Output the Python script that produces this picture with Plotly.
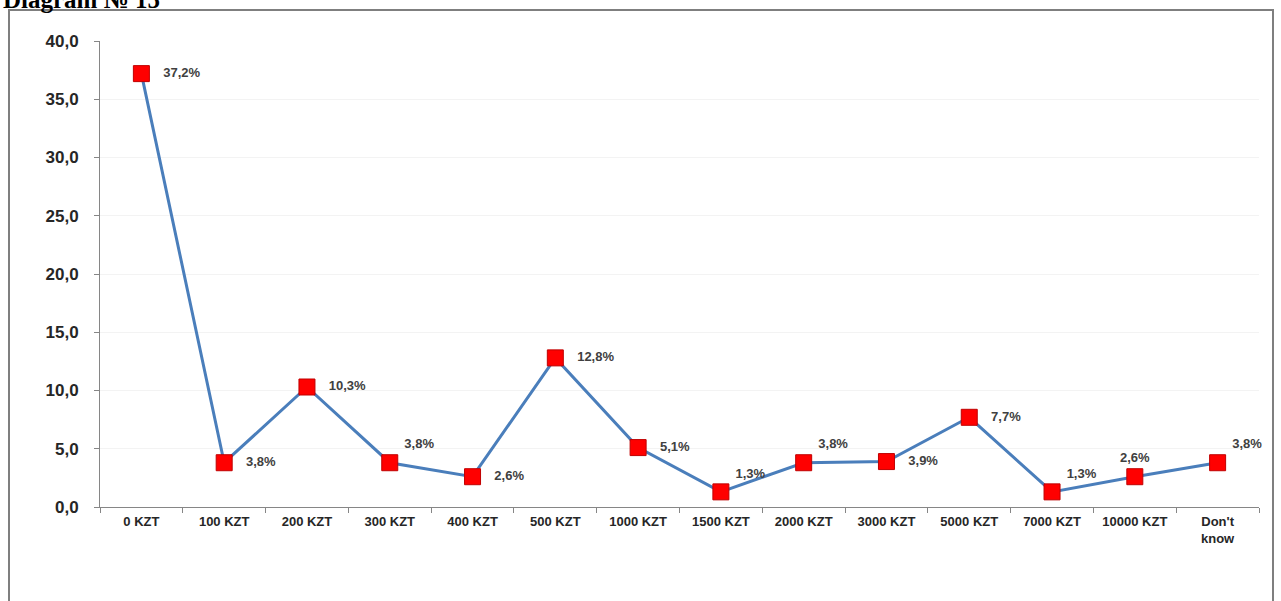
import plotly.graph_objects as go

categories = ["0 KZT", "100 KZT", "200 KZT", "300 KZT", "400 KZT", "500 KZT", "1000 KZT",
              "1500 KZT", "2000 KZT", "3000 KZT", "5000 KZT", "7000 KZT", "10000 KZT", "Don't<br>know"]
values = [37.2, 3.8, 10.3, 3.8, 2.6, 12.8, 5.1, 1.3, 3.8, 3.9, 7.7, 1.3, 2.6, 3.8]
y_ticks = [0, 5, 10, 15, 20, 25, 30, 35, 40]
y_tick_labels = ["0,0", "5,0", "10,0", "15,0", "20,0", "25,0", "30,0", "35,0", "40,0"]

label_text = [f"{v:.1f}".replace(".", ",") + "%" for v in values]
label_pos = ["middle right", "middle right", "middle right", "top right", "middle right",
             "middle right", "middle right", "top right", "top right", "middle right",
             "middle right", "top right", "top center", "top right"]

W, H = 1281, 601
L, R, T, B = 100, 22, 41, 94
pw, ph = W - L - R, H - T - B

def px(x):
    return (x - L) / pw

def py(y):
    return (H - B - y) / ph

fig = go.Figure()
fig.add_trace(go.Scatter(
    x=categories, y=values,
    mode="lines+markers+text",
    line=dict(color="#4a7ebb", width=3),
    marker=dict(symbol="square", size=16, color="#ff0000", line=dict(color="#c00000", width=1)),
    text=["   " + t if p == "middle right" else (" " + t if p == "top right" else t)
          for t, p in zip(label_text, label_pos)],
    textposition=label_pos,
    textfont=dict(family="Liberation Sans, Arial", size=13, color="#404040", weight="bold"),
    cliponaxis=False,
    showlegend=False,
))

fig.update_layout(
    width=W, height=H,
    margin=dict(l=L, r=R, t=T, b=B),
    paper_bgcolor="white", plot_bgcolor="white",
    xaxis=dict(
        type="category",
        range=[-0.5, len(categories) - 0.5],
        tickson="boundaries",
        tickangle=0,
        ticks="outside", ticklen=5, tickcolor="#868686",
        showline=True, linecolor="#868686", linewidth=1,
        showgrid=False,
        ticklabelstandoff=2,
        tickfont=dict(family="Liberation Sans, Arial", size=13, color="#262626", weight="bold"),
    ),
    yaxis=dict(
        range=[0, 40],
        tickvals=y_ticks, ticktext=y_tick_labels,
        ticks="outside", ticklen=5, tickcolor="#868686",
        showline=True, linecolor="#868686", linewidth=1,
        showgrid=True, gridcolor="#f3f3f3",
        zeroline=False,
        ticklabelstandoff=12,
        tickfont=dict(family="Liberation Sans, Arial", size=17, color="#262626", weight="bold"),
    ),
    shapes=[dict(
        type="rect", xref="paper", yref="paper",
        x0=px(9), x1=px(1273), y0=py(620), y1=py(10),
        line=dict(color="#7f7f7f", width=2), fillcolor="rgba(0,0,0,0)", layer="below",
    )],
    annotations=[dict(
        text="<b>Diagram № 15</b>", xref="paper", yref="paper",
        x=px(1), y=py(15), xanchor="left", yanchor="bottom",
        showarrow=False,
        font=dict(family="Liberation Serif, Times New Roman", size=25, color="black"),
    )],
)

fig.write_html("out.html", config={"displayModeBar": False},
               post_script="document.body.style.margin='0';")
